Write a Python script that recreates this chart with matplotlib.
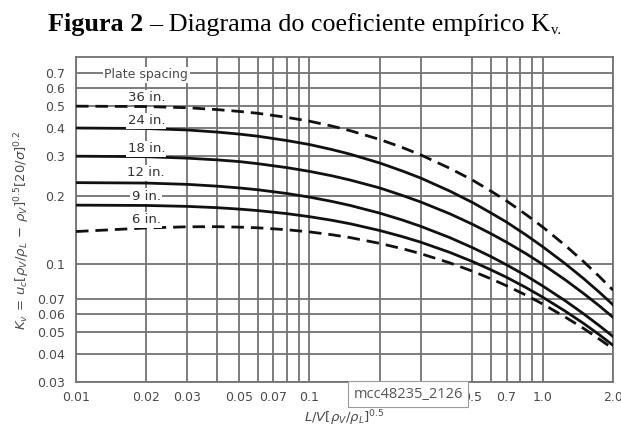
import matplotlib
matplotlib.use("Agg")
import matplotlib.pyplot as plt
from matplotlib.ticker import NullLocator


# flow parameter L/V (rho_V/rho_L)^0.5
flow_param = [0.01, 0.02, 0.03, 0.04, 0.05, 0.06, 0.08, 0.1, 0.125, 0.15, 0.2, 0.25,
              0.3, 0.4, 0.5, 0.6, 0.7, 0.85, 1.0, 1.25, 1.5, 1.75, 2.0]

# K_v for each plate spacing
kv_36in = [0.500, 0.498, 0.492, 0.483, 0.474, 0.465, 0.446, 0.429, 0.408, 0.389, 0.356, 0.328,
           0.304, 0.265, 0.235, 0.210, 0.190, 0.165, 0.1455, 0.1205, 0.102, 0.0877, 0.0764]
kv_24in = [0.400, 0.398, 0.392, 0.384, 0.376, 0.368, 0.352, 0.338, 0.321, 0.306, 0.280, 0.258,
           0.240, 0.210, 0.187, 0.168, 0.153, 0.134, 0.119, 0.100, 0.0858, 0.0747, 0.0658]
kv_18in = [0.300, 0.2985, 0.294, 0.289, 0.284, 0.278, 0.267, 0.257, 0.2455, 0.235, 0.217, 0.201,
           0.188, 0.1666, 0.1497, 0.136, 0.1246, 0.1107, 0.0994, 0.0848, 0.0737, 0.065, 0.0579]
kv_12in = [0.229, 0.228, 0.225, 0.221, 0.217, 0.213, 0.205, 0.1976, 0.189, 0.1813, 0.1678, 0.1564,
           0.1466, 0.1306, 0.1179, 0.1076, 0.0989, 0.0884, 0.0797, 0.0685, 0.0599, 0.0531, 0.0476]
kv_9in = [0.182, 0.1814, 0.1797, 0.1774, 0.1748, 0.1722, 0.1669, 0.1618, 0.1559, 0.1504, 0.1405, 0.132,
          0.1247, 0.1123, 0.1023, 0.094, 0.0871, 0.0783, 0.0711, 0.0616, 0.0543, 0.0484, 0.0435]
kv_6in = [0.139, 0.1442, 0.1459, 0.1461, 0.1454, 0.1444, 0.1416, 0.1385, 0.1345, 0.1306, 0.1232, 0.1167,
          0.1109, 0.1009, 0.0927, 0.0858, 0.0799, 0.0725, 0.0663, 0.058, 0.0516, 0.0463, 0.042]

spacing_labels = ["36 in.", "24 in.", "18 in.", "12 in.", "9 in.", "6 in."]
label_heights = [0.546, 0.430, 0.324, 0.253, 0.199, 0.157]

x_grid = [0.01, 0.02, 0.03, 0.04, 0.05, 0.06, 0.07, 0.08, 0.09, 0.1,
          0.2, 0.3, 0.5, 0.6, 0.7, 0.8, 0.9, 1.0, 2.0]
x_ticklabels = ["0.01", "0.02", "0.03", "", "0.05", "", "0.07", "", "", "0.1",
                "0.2", "0.3", "0.5", "", "0.7", "", "", "1.0", "2.0"]
y_grid = [0.03, 0.04, 0.05, 0.06, 0.07, 0.1, 0.2, 0.3, 0.4, 0.5, 0.6, 0.7]
y_ticklabels = ["0.03", "0.04", "0.05", "0.06", "0.07", "0.1", "0.2", "0.3",
                "0.4", "0.5", "0.6", "0.7"]

GRID = "#737373"
TXT = "#4a4a4a"
W, H = 621, 430


def draw_curves(ax):
    dash = (0, (4.5, 2.5))
    curves = [(kv_36in, dash), (kv_24in, "-"), (kv_18in, "-"),
              (kv_12in, "-"), (kv_9in, "-"), (kv_6in, dash)]
    for kv, ls in curves:
        ax.plot(flow_param, kv, color="#111111", lw=2.0, ls=ls, zorder=3)


def draw_labels(ax):
    box = dict(fc="white", ec="none", pad=1.0)
    ax.text(0.02, 0.688, "Plate spacing", ha="center", va="center",
            fontsize=9, color=TXT, bbox=box, zorder=4)
    for name, h in zip(spacing_labels, label_heights):
        ax.text(0.02, h, name, ha="center", va="center",
                fontsize=9.5, color="#333333", bbox=box, zorder=4)


def draw_title(fig):
    # bold prefix, then the caption, then the subscript, laid out one after another
    r = fig.canvas.get_renderer()
    base = 1 - 31 / H
    t1 = fig.text(48 / W, base, "Figura 2", family="Liberation Serif",
                  fontsize=18.8, weight="bold", ha="left", va="baseline")
    x1 = t1.get_window_extent(r).x1
    t2 = fig.text((x1 + 6) / W, base, "\u2013 Diagrama do coeficiente emp\u00edrico K",
                  family="Liberation Serif", fontsize=18.8, ha="left", va="baseline")
    x2 = t2.get_window_extent(r).x1
    fig.text((x2 + 1) / W, base - 3 / H, "v.", family="Liberation Serif",
             fontsize=10.5, ha="left", va="baseline")


def main():
    plt.rcParams["mathtext.fontset"] = "dejavusans"
    fig = plt.figure(figsize=(W / 100, H / 100), dpi=100)
    ax = fig.add_axes([76 / W, 1 - 381.7 / H, 537 / W, 324.7 / H])

    ax.set_xscale("log")
    ax.set_yscale("log")
    ax.set_xlim(0.01, 2.0)
    ax.set_ylim(0.03, 0.826)

    ax.xaxis.set_minor_locator(NullLocator())
    ax.yaxis.set_minor_locator(NullLocator())
    ax.set_xticks(x_grid)
    ax.set_xticklabels(x_ticklabels)
    ax.set_yticks(y_grid)
    ax.set_yticklabels(y_ticklabels)
    ax.tick_params(length=0, labelsize=9, labelcolor=TXT)
    ax.tick_params(axis="x", pad=7)
    ax.tick_params(axis="y", pad=8)

    ax.grid(True, color=GRID, lw=1.3, zorder=1)
    ax.set_axisbelow(True)
    for sp in ax.spines.values():
        sp.set_color(GRID)
        sp.set_linewidth(1.3)

    draw_curves(ax)
    draw_labels(ax)

    fig.text(22 / W, 1 - 230 / H,
             r"$K_v\,=\,u_c[\rho_V/\rho_L\,-\,\rho_V]^{0.5}[20/\sigma]^{0.2}$",
             rotation=90, ha="center", va="center", fontsize=9.5, color=TXT)
    fig.text(344 / W, 1 - 418 / H, r"$L/V[\rho_V/\rho_L]^{0.5}$",
             ha="center", va="center", fontsize=9.5, color=TXT)

    draw_title(fig)

    fig.text(408 / W, 1 - 394 / H, "mcc48235_2126", ha="center", va="center",
             fontsize=10.5, color="#555555", family="Open Sans", zorder=10,
             bbox=dict(fc="white", ec="#9a9a9a", lw=0.8, boxstyle="square,pad=0.35"))

    fig.savefig("out.png", dpi=100)


if __name__ == "__main__":
    main()
